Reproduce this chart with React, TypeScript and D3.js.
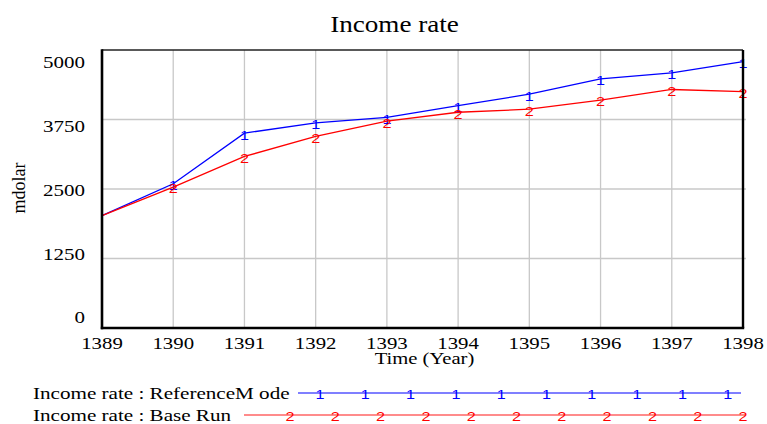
import React from "react";
import * as d3 from "d3";

const years = [1389, 1390, 1391, 1392, 1393, 1394, 1395, 1396, 1397, 1398];
const referenceMode = [2020, 2595, 3505, 3690, 3790, 4000, 4205, 4480, 4590, 4790];
const baseRun = [2020, 2535, 3085, 3445, 3720, 3880, 3935, 4100, 4290, 4250];
const yTicks = [0, 1250, 2500, 3750, 5000];
const xTicks = years;
const title = "Income rate";
const yLabel = "mdolar";
const xLabel = "Time (Year)";
const legendLabels = ["Income rate : ReferenceM ode", "Income rate : Base Run"];

const W = 767;
const H = 424;
const L = 102, R = 743, T = 50, B = 328;
const SERIF = "'Liberation Serif', 'Times New Roman', serif";
const SANS = "'Liberation Sans', Arial, sans-serif";

function SText(props: any) {
  const { x, y, size, sx = 1, anchor = "start", fill = "#000", family = SERIF, children, rotate } = props;
  const tr = rotate
    ? `translate(${x},${y}) rotate(${rotate})`
    : `translate(${x},${y}) scale(${sx},1)`;
  return (
    <text transform={tr} fontSize={size} fontFamily={family} textAnchor={anchor} fill={fill}>
      {children}
    </text>
  );
}

export default function App() {
  const x = d3.scaleLinear().domain([1389, 1398]).range([L, R]);
  const y = d3.scaleLinear().domain([0, 5000]).range([B, T]);
  const yLab = d3.scaleLinear().domain([0, 5000]).range([323.3, 68.3]);

  const line = d3
    .line<number>()
    .x((_, i) => x(years[i]))
    .y((d) => y(d));

  const series = [
    { values: referenceMode, color: "#0000ff", mark: "1" },
    { values: baseRun, color: "#ff0000", mark: "2" },
  ];

  const legend = [
    { y: 393, x0: 298, x1: 741, m0: 320, n: 10, color: "#0000ff", lineColor: "#0000ff", lw: 1.2, mark: "1", ty: 398.7 },
    { y: 415, x0: 244, x1: 745, m0: 290, n: 11, color: "#ff0000", lineColor: "#ff6464", lw: 1.6, mark: "2", ty: 420.7 },
  ];
  const legendStep = 45.3;

  return (
    <svg
      width={W}
      height={H}
      viewBox={`0 0 ${W} ${H}`}
      style={{ position: "absolute", left: 0, top: 0, background: "#fff" }}
    >
      <rect x={0} y={0} width={W} height={H} fill="#fff" />
      <SText x={394.5} y={32.3} size={24} sx={1.13} anchor="middle">
        {title}
      </SText>

      {xTicks.slice(1, -1).map((t) => (
        <line key={"gx" + t} x1={x(t)} x2={x(t)} y1={T} y2={B} stroke="#c8c8c8" strokeWidth={1.3} />
      ))}
      {yTicks.slice(1, -1).map((t) => (
        <line key={"gy" + t} x1={L} x2={R + 3} y1={y(t)} y2={y(t)} stroke="#c8c8c8" strokeWidth={1.3} />
      ))}

      {series.map((s, si) => (
        <g key={"s" + si}>
          <path d={line(s.values) || ""} fill="none" stroke={s.color} strokeWidth={1.3} />
          {s.values.map((v, i) =>
            i === 0 ? null : (
              <SText key={i} x={x(years[i])} y={y(v) + 6.4} size={13.5} sx={1.2} anchor="middle" fill={s.color} family={SANS}>
                {s.mark}
              </SText>
            )
          )}
        </g>
      ))}

      <line x1={L} x2={R} y1={T} y2={T} stroke="#222" strokeWidth={1.6} />
      <line x1={R} x2={R} y1={T} y2={B} stroke="#000" strokeWidth={2.4} />
      <line x1={L} x2={L} y1={T - 0.8} y2={B + 1.2} stroke="#000" strokeWidth={2.6} />
      <line x1={L - 1.2} x2={R + 1.2} y1={B} y2={B} stroke="#000" strokeWidth={2.6} />

      {yTicks.map((t) => (
        <SText key={"yl" + t} x={85} y={yLab(t)} size={17.5} sx={1.2} anchor="end">
          {String(t)}
        </SText>
      ))}
      {xTicks.map((t) => (
        <SText key={"xl" + t} x={x(t)} y={348.5} size={17.5} sx={1.19} anchor="middle">
          {String(t)}
        </SText>
      ))}

      <SText x={424.5} y={364} size={16.5} sx={1.25} anchor="middle">
        {xLabel}
      </SText>
      <SText x={25} y={188} size={18} rotate={-90} anchor="middle">
        {yLabel}
      </SText>

      {legend.map((lg, li) => (
        <g key={"lg" + li}>
          <SText x={33} y={lg.ty} size={16} sx={1.32}>
            {legendLabels[li]}
          </SText>
          <line x1={lg.x0} x2={lg.x1} y1={lg.y} y2={lg.y} stroke={lg.lineColor} strokeWidth={lg.lw} />
          {d3.range(lg.n).map((k) => (
            <SText key={k} x={lg.m0 + k * legendStep} y={lg.y + 6.4} size={13.5} sx={1.2} anchor="middle" fill={lg.color} family={SANS}>
              {lg.mark}
            </SText>
          ))}
        </g>
      ))}
    </svg>
  );
}
